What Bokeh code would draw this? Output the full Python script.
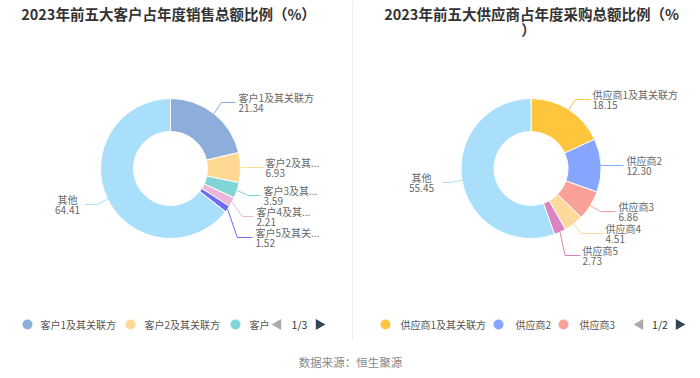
import numpy as np
from bokeh.plotting import figure
from bokeh.models import Range1d, ColumnDataSource
from bokeh.core.properties import value
from bokeh.embed import file_html
from bokeh.resources import INLINE

# ---------------- data ----------------
title_left = "2023年前五大客户占年度销售总额比例（%）"
title_right_1 = "2023年前五大供应商占年度采购总额比例（%"
title_right_2 = "）"

cust_labels = ["客户1及其关联方", "客户2及其...", "客户3及其...", "客户4及其...", "客户5及其关...", "其他"]
cust_values = [21.34, 6.93, 3.59, 2.21, 1.52, 64.41]
cust_colors = ["#8DADDB", "#FFD894", "#80D5D7", "#E8B7DB", "#6C6CF2", "#A9DFFB"]

sup_labels = ["供应商1及其关联方", "供应商2", "供应商3", "供应商4", "供应商5", "其他"]
sup_values = [18.15, 12.30, 6.86, 4.51, 2.73, 55.45]
sup_colors = ["#FFC53D", "#85A5FF", "#F9A097", "#FFD99B", "#D983C0", "#A9DFFB"]

legend_left = ["客户1及其关联方", "客户2及其关联方", "客户"]
legend_right = ["供应商1及其关联方", "供应商2", "供应商3"]
pager_left = "1/3"
pager_right = "1/2"
source_note = "数据来源：恒生聚源"

# ---------------- layout ----------------
FONT = "Noto Sans CJK SC, Noto Sans, sans-serif"
W, H = 700, 378


def Y(s):
    return H - s


R_OUT, R_IN, L1 = 70, 37, 12

p = figure(width=W, height=H, x_range=Range1d(0, W), y_range=Range1d(0, H),
           output_backend="svg", toolbar_location=None, x_axis_type=None, y_axis_type=None,
           min_border=0, min_border_left=0, min_border_right=0, min_border_top=0, min_border_bottom=0)
p.grid.visible = False
p.outline_line_color = None
p.background_fill_color = "white"
p.border_fill_color = "white"


def txt(x, y, t, size, color, align="left", bold=False):
    src = ColumnDataSource(dict(x=x, y=y, t=t))
    p.text("x", "y", text="t", source=src, text_font=value(FONT), text_font_size=size,
           text_color=color, text_align=align, text_baseline="middle",
           text_font_style="bold" if bold else "normal")


def donut(cx, cy, values, colors, labels, line_y, end_x, text_x, align):
    vals = np.array(values, dtype=float)
    tot = vals.sum()
    cum1 = np.cumsum(vals)
    cum0 = cum1 - vals
    start = np.pi / 2 - 2 * np.pi * cum0 / tot
    end = np.pi / 2 - 2 * np.pi * cum1 / tot
    src = ColumnDataSource(dict(x=[cx] * len(vals), y=[Y(cy)] * len(vals),
                                s=start, e=end, c=colors))
    p.annular_wedge("x", "y", inner_radius=R_IN, outer_radius=R_OUT, start_angle="s",
                    end_angle="e", direction="clock", fill_color="c", line_color="white",
                    line_width=1, source=src)
    mid = 2 * np.pi * (cum0 + cum1) / 2 / tot
    xs, ys = [], []
    for i in range(len(vals)):
        x0 = cx + R_OUT * np.sin(mid[i])
        y0 = cy - R_OUT * np.cos(mid[i])
        xe = cx + (R_OUT + L1) * np.sin(mid[i])
        xs.append([x0, xe, end_x[i]])
        ys.append([Y(y0), Y(line_y[i]), Y(line_y[i])])
    p.multi_line(xs, ys, line_color=colors, line_width=1)
    for i in range(len(vals)):
        txt([text_x[i]], [Y(line_y[i] - 5)], [labels[i]], "10px", "#666666", align[i])
        txt([text_x[i]], [Y(line_y[i] + 5.5)], ["%.2f" % values[i]], "10px", "#666666", align[i])


# divider
p.segment(x0=[352], y0=[Y(0)], x1=[352], y1=[Y(340)], line_color="#eeeeee", line_width=1)

# titles
txt([168], [Y(13)], [title_left], "14.5px", "#333333", "center", True)
txt([531], [Y(13)], [title_right_1], "14.5px", "#333333", "center", True)
txt([528], [Y(29)], [title_right_2], "14.5px", "#333333", "center", True)

donut(170, 168, cust_values, cust_colors, cust_labels,
      line_y=[102, 167, 195, 216, 237, 204],
      end_x=[235, 263, 260, 253, 252, 85],
      text_x=[238, 265, 263, 256, 255, 67],
      align=["left"] * 5 + ["center"])

donut(530.5, 168, sup_values, sup_colors, sup_labels,
      line_y=[99, 165, 211, 233, 255, 182],
      end_x=[590, 623, 615, 603, 580, 442],
      text_x=[592, 626, 618, 605, 582, 421],
      align=["left"] * 5 + ["center"])

# legends
LY = Y(324)
p.scatter([27, 130, 235], [LY] * 3, size=10, marker="circle", color=cust_colors[:3], line_color=None)
txt([40, 144, 249], [LY] * 3, legend_left, "10px", "#555555")
p.scatter([385, 498, 563], [LY] * 3, size=10, marker="circle", color=sup_colors[:3], line_color=None)
txt([400, 515, 579], [LY] * 3, legend_right, "10px", "#555555")

# pagers
p.scatter([277.5, 639.5], [LY, LY], size=11, marker="triangle", angle=np.pi / 2,
          color="#aaaaaa", line_color=None)
p.scatter([318.5, 678.5], [LY, LY], size=11, marker="triangle", angle=-np.pi / 2,
          color="#2f4554", line_color=None)
txt([299, 659.5], [LY, LY], [pager_left, pager_right], "10.5px", "#333333", "center")

# source
txt([350], [Y(361)], [source_note], "11.5px", "#888888", "center")

open("out.html", "w").write(file_html(p, INLINE))
